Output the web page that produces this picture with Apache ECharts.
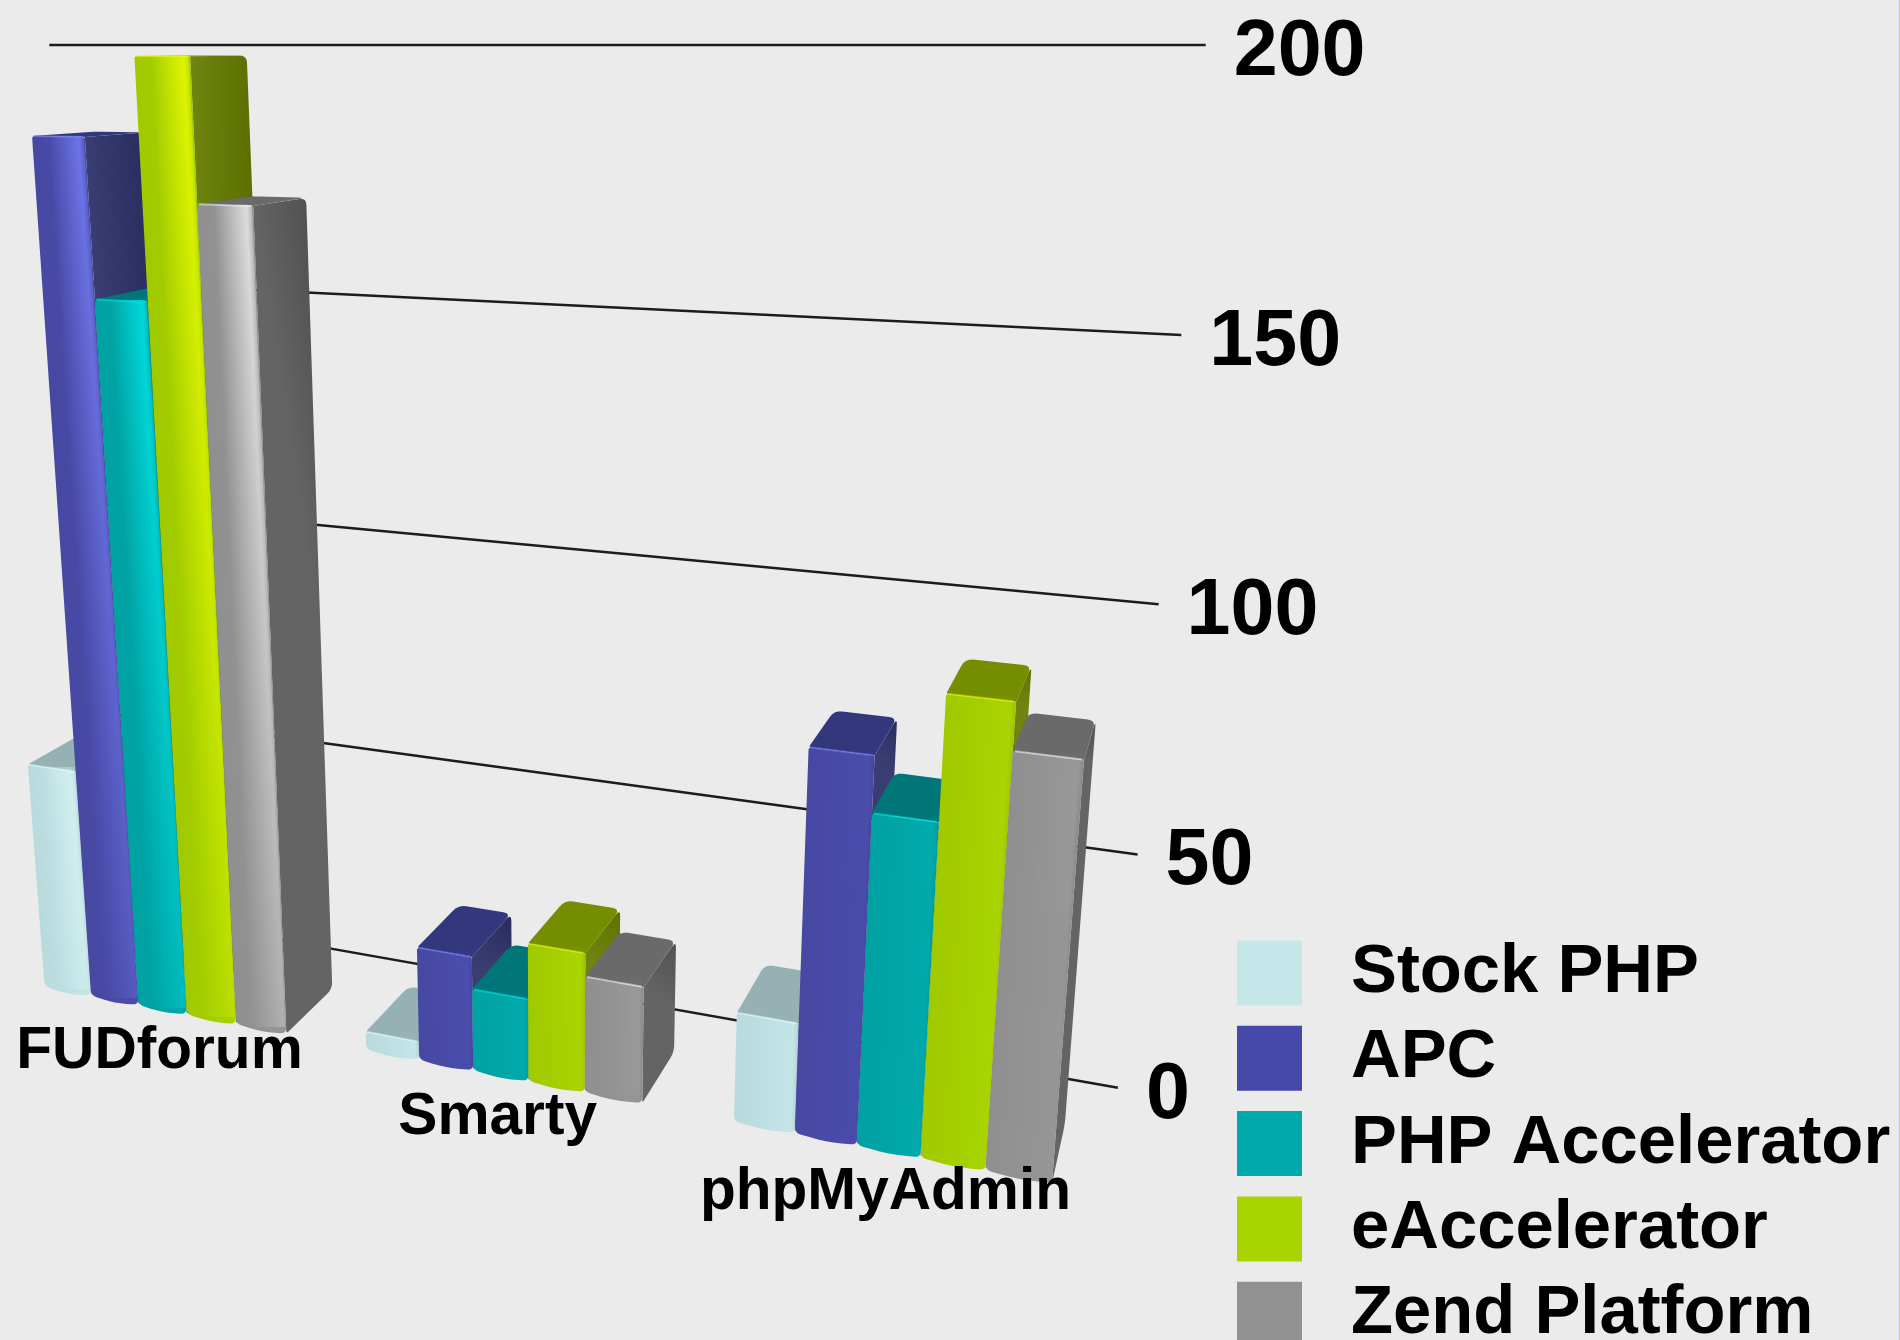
<!DOCTYPE html>
<html>
<head>
<meta charset="utf-8">
<style>html,body{margin:0;padding:0;background:#ebebeb}#chart{width:1900px;height:1340px}</style>
<script src="https://cdn.jsdelivr.net/npm/echarts@6/dist/echarts.min.js"></script>
</head>
<body>
<div id="chart"></div>
<script>
// Benchmark results per application and per PHP cache
const categories = ['FUDforum', 'Smarty', 'phpMyAdmin'];
const seriesNames = ['Stock PHP', 'APC', 'PHP Accelerator', 'eAccelerator', 'Zend Platform'];
const stockPhp = [52, 4, 23];
const apc = [183, 25, 78];
const phpAccelerator = [152, 18, 67];
const eAccelerator = [198, 30, 91];
const zendPlatform = [171, 25, 82];
const valueTicks = [0, 50, 100, 150, 200];

const seriesValues = [stockPhp, apc, phpAccelerator, eAccelerator, zendPlatform];

// Face colours of each box: front, bright sheen, top face, side face
const palette = [
  { front: '#c3e5e8', sheen: '#eaffff', top: '#96b1b4', side: '#7f999b' },
  { front: '#4a4cab', sheen: '#7a86ff', top: '#33387c', side: '#2d3168' },
  { front: '#00a9ab', sheen: '#00f4f4', top: '#007679', side: '#005f60' },
  { front: '#a8d400', sheen: '#f2ff00', top: '#748e00', side: '#667d00' },
  { front: '#969696', sheen: '#ffffff', top: '#6a6a6a', side: '#5a5a5a' }
];
const legendColors = ['#c5e7ea', '#4649aa', '#00a9ab', '#a8d400', '#919191'];
// How strongly the light catches the front faces in each group
const sheenByCategory = [0.75, 0.08, 0.04];

// Three-point perspective: vanishing points and the scale along each world axis
const VP_X = [-4780, 45];
const VP_Y = [556, 7760];
const VP_Z = [1300, 45];
const ORIGIN = [101, 908];
const ALPHA = -0.1719;
const BETA = -0.11186;
const WALL_SHIFT_X = 0.0067;
const WALL_START = 0.006;
const BAR_BACK = -0.034;
const BAR_FRONT = -0.0754;
const GROUP_RATIO = 0.7635;

// Hidden flat plot; its scales feed the projection below
const GRID = { left: 100, top: 100, width: 1000, height: 800 };

function project(X, Y, W) {
  const a = ALPHA * X, b = BETA * Y, d = 1 + a + b + W;
  return [
    (a * VP_X[0] + b * VP_Y[0] + W * VP_Z[0] + ORIGIN[0]) / d,
    (a * VP_X[1] + b * VP_Y[1] + W * VP_Z[1] + ORIGIN[1]) / d
  ];
}
function worldX(px) { return (px - GRID.left) / GRID.width + WALL_SHIFT_X; }
function worldY(py) { return (GRID.top + GRID.height - py) / GRID.height; }

function hexRgb(h) { return [1, 3, 5].map(i => parseInt(h.substr(i, 2), 16)); }
function mix(c1, c2, t) {
  const a = hexRgb(c1), b = hexRgb(c2);
  return 'rgb(' + a.map((v, i) => Math.round(v + (b[i] - v) * t)).join(',') + ')';
}
function alpha(c, al) { return 'rgba(' + hexRgb(c).join(',') + ',' + al + ')'; }

// Softens polygon corners; radii is one radius per vertex
function rounded(pts, radii) {
  const out = [], n = pts.length;
  for (let i = 0; i < n; i++) {
    const p = pts[i], prev = pts[(i + n - 1) % n], next = pts[(i + 1) % n], r = radii[i];
    const dp = Math.hypot(prev[0] - p[0], prev[1] - p[1]), dn = Math.hypot(next[0] - p[0], next[1] - p[1]);
    const rp = Math.min(r, dp / 2), rn = Math.min(r, dn / 2);
    if (!r) { out.push(p); continue; }
    const s = [p[0] + (prev[0] - p[0]) * rp / dp, p[1] + (prev[1] - p[1]) * rp / dp];
    const e = [p[0] + (next[0] - p[0]) * rn / dn, p[1] + (next[1] - p[1]) * rn / dn];
    for (let k = 0; k <= 4; k++) {
      const t = k / 4, u = 1 - t;
      out.push([u * u * s[0] + 2 * u * t * p[0] + t * t * e[0], u * u * s[1] + 2 * u * t * p[1] + t * t * e[1]]);
    }
  }
  return out;
}
function linear(p0, p1, stops) {
  return { type: 'linear', x: p0[0], y: p0[1], x2: p1[0], y2: p1[1], global: true,
    colorStops: stops.map(s => ({ offset: s[0], color: s[1] })) };
}
// End point of a gradient running across a leaning face, square to its long edge
function acrossEdge(start, end, along0, along1) {
  const ex = along1[0] - along0[0], ey = along1[1] - along0[1], len = Math.hypot(ex, ey) || 1;
  const ux = ex / len, uy = ey / len, gx = end[0] - start[0], gy = end[1] - start[1], dot = gx * ux + gy * uy;
  return [start[0] + gx - dot * ux, start[1] + gy - dot * uy];
}

function renderBar(index) {
  const colors = palette[index];
  return function (params, api) {
    const cat = api.value(0);
    const pt = api.coord([cat, api.value(1)]);
    const band = api.size([1, 0])[0];
    const barW = worldX(GRID.left + band) - WALL_SHIFT_X;
    const groupW = barW * GROUP_RATIO, w = groupW / seriesNames.length;
    const x0 = worldX(pt[0]) - groupW / 2 + index * w, x1 = x0 + w;
    const top = worldY(pt[1]);

    const fbl = project(x0, 0, BAR_FRONT), fbr = project(x1, 0, BAR_FRONT);
    const ftl = project(x0, top, BAR_FRONT), ftr = project(x1, top, BAR_FRONT);
    const bbr = project(x1, 0, BAR_BACK), btl = project(x0, top, BAR_BACK), btr = project(x1, top, BAR_BACK);
    const children = [];

    // Right-hand side face
    children.push({
      type: 'polygon',
      shape: { points: rounded([ftr, btr, bbr, fbr], [0, 7, 7, 3]) },
      style: { fill: linear(ftr, btr, [[0, mix(colors.side, '#ffffff', 0.06)], [1, mix(colors.side, '#000000', 0.1)]]) }
    });
    // Top face
    children.push({
      type: 'polygon',
      shape: { points: rounded([ftl, btl, btr, ftr], [3, 8, 8, 0]) },
      style: { fill: colors.top }
    });
    // Front face; its lower edge bows slightly like a moulded base
    const bow = [(fbl[0] + fbr[0]) / 2, (fbl[1] + fbr[1]) / 2 + 3];
    const sheen = sheenByCategory[cat];
    children.push({
      type: 'polygon',
      shape: { points: rounded([ftl, ftr, fbr, bow, fbl], [3, 2, 6, 24, 6]) },
      style: {
        fill: linear(ftl, acrossEdge(ftl, ftr, ftl, fbl), [
          [0, mix(colors.front, '#000000', 0.05)],
          [0.92, colors.front],
          [1, mix(colors.front, '#000000', 0.08)]
        ])
      }
    });
    // Sheen toward the right edge, made of thin rows so it fades down the bar
    const xs = x0 + w * 0.3, xe = x1 - w * 0.02;
    const edgeTop = project(xs, top, BAR_FRONT), edgeBase = project(xs, 0, BAR_FRONT);
    const sheenEnd = acrossEdge(edgeTop, project(xe, top, BAR_FRONT), edgeTop, edgeBase);
    const rows = Math.max(1, Math.ceil(top * 60));
    for (let r = 0; r < rows; r++) {
      const t0 = top * r / rows, t1 = top * (r + 1) / rows;
      const strength = sheen * (0.32 + 0.68 * ((t0 + t1) / 2));
      if (strength < 0.02) continue;
      const a0 = project(xs, t0, BAR_FRONT), b0 = project(xe, t0, BAR_FRONT);
      const a1 = project(xs, t1, BAR_FRONT), b1 = project(xe, t1, BAR_FRONT);
      const y0 = Math.round(a0[1]), y1 = Math.round(a1[1]);
      if (y0 === y1) continue;
      children.push({
        type: 'polygon',
        shape: { points: [[a0[0], y0], [b0[0], y0], [b1[0], y1], [a1[0], y1]] },
        style: {
          fill: linear(edgeTop, sheenEnd, [
            [0, alpha(colors.sheen, 0)],
            [0.85, alpha(colors.sheen, strength)],
            [1, alpha(colors.sheen, strength * 0.45)]
          ])
        }
      });
    }
    // Lit rim along the front top edge
    children.push({
      type: 'polyline',
      shape: { points: [project(x0 + w * 0.03, top, BAR_FRONT), project(x1 - w * 0.03, top, BAR_FRONT)] },
      style: { stroke: alpha(colors.sheen, 0.5), lineWidth: 2, fill: 'none' }
    });
    return { type: 'group', children };
  };
}

const barSeries = seriesNames.map((name, index) => ({
  name,
  type: 'custom',
  coordinateSystem: 'cartesian2d',
  clip: false,
  z: 3,
  itemStyle: { color: legendColors[index] },
  encode: { x: 0, y: 1 },
  data: categories.map((c, i) => [i, seriesValues[index][i]]),
  renderItem: renderBar(index)
}));

// Gridlines on the rear wall with their tick labels
const wallSeries = {
  type: 'custom',
  coordinateSystem: 'cartesian2d',
  clip: false,
  z: 2,
  encode: { x: 0, y: 1 },
  data: valueTicks.map(v => [0, v]),
  renderItem(params, api) {
    const v = api.value(1);
    const y = worldY(api.coord([0, v])[1]);
    const a = project(WALL_START, y, 0), b = project(1.003, y, 0);
    return {
      type: 'group',
      children: [
        { type: 'line', shape: { x1: a[0], y1: a[1], x2: b[0], y2: b[1] }, style: { stroke: '#1c1c1c', lineWidth: 2.5 } },
        { type: 'text', style: { x: b[0] + 28, y: b[1] + 8, text: String(v), fill: '#000', align: 'left', verticalAlign: 'middle',
            font: 'bold 79px "Liberation Sans", Arial, sans-serif' } }
      ]
    };
  }
};

// Group names below the front row of boxes
const categorySeries = {
  type: 'custom',
  coordinateSystem: 'cartesian2d',
  clip: false,
  z: 5,
  encode: { x: 0, y: 1 },
  data: categories.map((c, i) => [i, 0]),
  renderItem(params, api) {
    const cat = api.value(0);
    const p = project(worldX(api.coord([cat, 0])[0]), 0, BAR_FRONT);
    return {
      type: 'text',
      style: { x: p[0] - 3, y: p[1] + 42, text: categories[cat], fill: '#000', align: 'center', verticalAlign: 'middle',
        font: 'bold 58.6px "Liberation Sans", Arial, sans-serif' }
    };
  }
};

const chart = echarts.init(document.getElementById('chart'), null, { renderer: 'canvas' });
chart.setOption({
  animation: false,
  backgroundColor: '#ebebeb',
  grid: GRID,
  xAxis: { type: 'category', data: categories, show: false },
  yAxis: { type: 'value', min: 0, max: 200, interval: 50, show: false },
  legend: {
    data: seriesNames,
    orient: 'vertical',
    left: 1237,
    top: 938,
    height: 520,
    padding: 0,
    itemWidth: 65,
    itemHeight: 65,
    itemGap: 15.3,
    icon: 'rect',
    selectedMode: false,
    textStyle: { color: '#000', fontFamily: '"Liberation Sans", Arial, sans-serif', fontWeight: 'bold', fontSize: 68.8, lineHeight: 65, padding: [5, 0, 0, 44] }
  },
  // Thin amber rule down the right-hand border
  graphic: [{ type: 'rect', left: 1899, top: 0, shape: { width: 1, height: 1340 }, style: { fill: '#f0c838' }, silent: true }],
  series: [wallSeries].concat(barSeries, [categorySeries])
});
</script>
</body>
</html>
